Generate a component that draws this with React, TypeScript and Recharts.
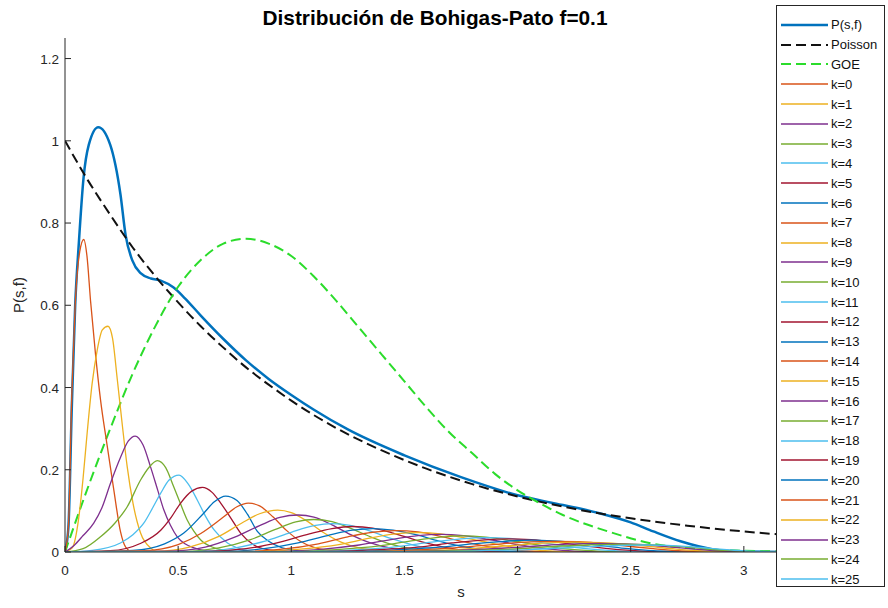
import { LineChart, Line, XAxis, YAxis } from 'recharts'

type Pt = [number, number]

const X_TICKS = [0, 0.5, 1, 1.5, 2, 2.5, 3]
const Y_TICKS = [0, 0.2, 0.4, 0.6, 0.8, 1, 1.2]

const P_SF: Pt[] = [
  [0, 0], [0.015, 0.06], [0.03, 0.35], [0.045, 0.6], [0.061, 0.75], [0.082, 0.91], [0.105, 0.99],
  [0.147, 1.033], [0.2, 0.99], [0.245, 0.87], [0.268, 0.77], [0.297, 0.71], [0.334, 0.678],
  [0.38, 0.665], [0.423, 0.66], [0.48, 0.643], [0.53, 0.617], [0.6, 0.575], [0.7, 0.518],
  [0.8, 0.466], [0.9, 0.421], [1, 0.382], [1.1, 0.346], [1.25, 0.298], [1.5, 0.235],
  [1.75, 0.182], [2, 0.138], [2.15, 0.12], [2.28, 0.105], [2.37, 0.093], [2.5, 0.072],
  [2.6, 0.05], [2.72, 0.026], [2.86, 0.007], [3, 0.001], [3.2, 0], [3.5, 0],
]

const POISSON: Pt[] = [
  [0, 1], [0.1, 0.905], [0.2, 0.82], [0.3, 0.74], [0.4, 0.67], [0.5, 0.607], [0.6, 0.549],
  [0.7, 0.497], [0.8, 0.449], [0.9, 0.407], [1, 0.368], [1.2, 0.301], [1.4, 0.247], [1.6, 0.202],
  [1.8, 0.165], [2, 0.135], [2.25, 0.105], [2.5, 0.082], [2.75, 0.064], [3, 0.05], [3.25, 0.039],
  [3.5, 0.03],
]

const GOE: Pt[] = [
  [0, 0], [0.1, 0.155], [0.2, 0.3], [0.3, 0.435], [0.4, 0.55], [0.5, 0.645], [0.6, 0.71],
  [0.7, 0.75], [0.8, 0.762], [0.9, 0.75], [1, 0.72], [1.1, 0.67], [1.2, 0.61], [1.3, 0.545],
  [1.4, 0.48], [1.5, 0.415], [1.6, 0.35], [1.7, 0.29], [1.8, 0.24], [1.9, 0.19], [2, 0.15],
  [2.1, 0.118], [2.2, 0.09], [2.4, 0.05], [2.6, 0.02], [2.8, 0.008], [3, 0.003], [3.2, 0.001], [3.5, 0],
]

// k-terms
const K0: Pt[] = [[0, 0], [0.015, 0.06], [0.03, 0.38], [0.045, 0.6], [0.065, 0.73], [0.083, 0.76], [0.097, 0.72], [0.113, 0.61], [0.135, 0.48], [0.157, 0.37], [0.186, 0.26], [0.216, 0.15], [0.245, 0.05], [0.268, 0.012], [0.3, 0], [3.5, 0]]
const K1: Pt[] = [[0, 0], [0.032, 0.01], [0.06, 0.08], [0.08, 0.18], [0.098, 0.29], [0.12, 0.41], [0.142, 0.49], [0.165, 0.54], [0.19, 0.549], [0.21, 0.52], [0.231, 0.42], [0.253, 0.31], [0.275, 0.207], [0.3, 0.12], [0.334, 0.046], [0.378, 0.01], [0.42, 0], [3.5, 0]]
const K2: Pt[] = [[0, 0], [0.04, 0.016], [0.08, 0.04], [0.127, 0.07], [0.165, 0.11], [0.201, 0.167], [0.246, 0.231], [0.28, 0.27], [0.31, 0.282], [0.345, 0.26], [0.378, 0.207], [0.41, 0.15], [0.437, 0.102], [0.466, 0.065], [0.496, 0.037], [0.53, 0.02], [0.57, 0.01], [0.63, 0.002], [0.7, 0], [3.5, 0]]
const K3: Pt[] = [[0, 0], [0.08, 0.008], [0.157, 0.037], [0.22, 0.07], [0.275, 0.11], [0.334, 0.175], [0.37, 0.205], [0.408, 0.222], [0.445, 0.205], [0.48, 0.159], [0.51, 0.118], [0.54, 0.078], [0.57, 0.05], [0.6, 0.029], [0.66, 0.01], [0.72, 0.003], [0.8, 0], [3.5, 0]]
const K4: Pt[] = [[0, 0], [0.12, 0.004], [0.245, 0.022], [0.3, 0.042], [0.348, 0.07], [0.39, 0.11], [0.423, 0.143], [0.46, 0.175], [0.504, 0.187], [0.545, 0.165], [0.585, 0.126], [0.62, 0.088], [0.66, 0.053], [0.718, 0.022], [0.78, 0.007], [0.86, 0], [3.5, 0]]
const K5: Pt[] = [[0, 0], [0.2, 0.003], [0.33, 0.02], [0.423, 0.053], [0.47, 0.085], [0.511, 0.119], [0.56, 0.148], [0.607, 0.157], [0.65, 0.145], [0.688, 0.119], [0.73, 0.085], [0.776, 0.046], [0.835, 0.017], [0.9, 0.005], [1, 0], [3.5, 0]]
const K6: Pt[] = [[0, 0], [0.3, 0.004], [0.44, 0.02], [0.525, 0.046], [0.614, 0.095], [0.66, 0.122], [0.71, 0.136], [0.76, 0.125], [0.806, 0.092], [0.85, 0.05], [0.9, 0.026], [0.96, 0.01], [1.05, 0.002], [1.15, 0], [3.5, 0]]
const K7: Pt[] = [[0, 0], [0.35, 0.003], [0.5, 0.018], [0.6, 0.045], [0.7, 0.085], [0.76, 0.11], [0.81, 0.119], [0.86, 0.112], [0.92, 0.085], [0.98, 0.052], [1.04, 0.026], [1.1, 0.011], [1.2, 0.002], [1.3, 0], [3.5, 0]]
const K8: Pt[] = [[0, 0], [0.4, 0.002], [0.55, 0.012], [0.68, 0.038], [0.78, 0.07], [0.86, 0.093], [0.94, 0.102], [1.0, 0.096], [1.07, 0.075], [1.14, 0.048], [1.22, 0.024], [1.3, 0.01], [1.4, 0.003], [1.5, 0], [3.5, 0]]
const K9: Pt[] = [[0, 0], [0.45, 0.002], [0.62, 0.012], [0.75, 0.036], [0.86, 0.064], [0.95, 0.084], [1.03, 0.09], [1.1, 0.085], [1.18, 0.066], [1.26, 0.043], [1.35, 0.022], [1.45, 0.008], [1.55, 0.002], [1.65, 0], [3.5, 0]]
const K10: Pt[] = [[0, 0], [0.5, 0.001], [0.68, 0.01], [0.82, 0.03], [0.93, 0.055], [1.02, 0.073], [1.1, 0.079], [1.18, 0.074], [1.26, 0.058], [1.35, 0.037], [1.44, 0.019], [1.54, 0.007], [1.65, 0.001], [1.75, 0], [3.5, 0]]
const K11: Pt[] = [[0, 0], [0.55, 0.001], [0.74, 0.009], [0.88, 0.026], [1.0, 0.048], [1.1, 0.064], [1.18, 0.069], [1.26, 0.065], [1.35, 0.051], [1.44, 0.033], [1.54, 0.017], [1.64, 0.006], [1.75, 0.001], [1.85, 0], [3.5, 0]]
const K12: Pt[] = [[0, 0], [0.6, 0.001], [0.8, 0.008], [0.95, 0.024], [1.08, 0.044], [1.18, 0.057], [1.27, 0.062], [1.36, 0.058], [1.45, 0.046], [1.55, 0.029], [1.65, 0.015], [1.75, 0.005], [1.87, 0.001], [1.97, 0], [3.5, 0]]
const K13: Pt[] = [[0, 0], [0.68, 0.001], [0.88, 0.008], [1.03, 0.022], [1.16, 0.04], [1.27, 0.053], [1.36, 0.057], [1.45, 0.053], [1.55, 0.042], [1.65, 0.027], [1.75, 0.014], [1.86, 0.005], [1.98, 0.001], [2.08, 0], [3.5, 0]]
const K14: Pt[] = [[0, 0], [0.75, 0.001], [0.96, 0.007], [1.12, 0.02], [1.25, 0.037], [1.36, 0.048], [1.46, 0.052], [1.56, 0.049], [1.66, 0.038], [1.76, 0.025], [1.87, 0.013], [1.98, 0.005], [2.1, 0.001], [2.2, 0], [3.5, 0]]
const K15: Pt[] = [[0, 0], [0.82, 0.001], [1.04, 0.007], [1.21, 0.018], [1.34, 0.033], [1.46, 0.044], [1.56, 0.047], [1.66, 0.044], [1.77, 0.034], [1.88, 0.022], [1.99, 0.011], [2.1, 0.004], [2.22, 0.001], [2.32, 0], [3.5, 0]]
const K16: Pt[] = [[0, 0], [0.9, 0.001], [1.12, 0.006], [1.3, 0.017], [1.44, 0.03], [1.56, 0.04], [1.66, 0.043], [1.76, 0.04], [1.87, 0.031], [1.98, 0.02], [2.09, 0.01], [2.2, 0.004], [2.32, 0.001], [2.42, 0], [3.5, 0]]
const K17: Pt[] = [[0, 0], [0.98, 0.001], [1.2, 0.006], [1.39, 0.015], [1.53, 0.027], [1.66, 0.036], [1.76, 0.039], [1.86, 0.036], [1.97, 0.028], [2.08, 0.018], [2.19, 0.009], [2.3, 0.004], [2.42, 0.001], [2.52, 0], [3.5, 0]]
const K18: Pt[] = [[0, 0], [1.05, 0.001], [1.28, 0.005], [1.47, 0.013], [1.62, 0.024], [1.75, 0.032], [1.86, 0.035], [1.96, 0.033], [2.07, 0.026], [2.18, 0.017], [2.29, 0.009], [2.4, 0.004], [2.52, 0.001], [2.62, 0], [3.5, 0]]
const K19: Pt[] = [[0, 0], [1.12, 0.001], [1.36, 0.005], [1.56, 0.012], [1.71, 0.022], [1.84, 0.029], [1.96, 0.032], [2.06, 0.03], [2.17, 0.024], [2.28, 0.016], [2.39, 0.009], [2.5, 0.004], [2.61, 0.001], [2.7, 0], [3.5, 0]]
const K20: Pt[] = [[0, 0], [1.2, 0.001], [1.44, 0.004], [1.64, 0.011], [1.8, 0.02], [1.94, 0.026], [2.06, 0.029], [2.16, 0.027], [2.27, 0.022], [2.38, 0.015], [2.49, 0.008], [2.6, 0.003], [2.71, 0.001], [2.8, 0], [3.5, 0]]
const K21: Pt[] = [[0, 0], [1.28, 0.001], [1.52, 0.004], [1.72, 0.01], [1.89, 0.018], [2.03, 0.024], [2.16, 0.026], [2.27, 0.025], [2.38, 0.02], [2.49, 0.014], [2.6, 0.008], [2.71, 0.003], [2.82, 0.001], [2.9, 0], [3.5, 0]]
const K22: Pt[] = [[0, 0], [1.36, 0.001], [1.6, 0.003], [1.81, 0.009], [1.98, 0.016], [2.13, 0.022], [2.26, 0.024], [2.37, 0.023], [2.48, 0.019], [2.59, 0.013], [2.7, 0.007], [2.8, 0.003], [2.9, 0.001], [2.98, 0], [3.5, 0]]
const K23: Pt[] = [[0, 0], [1.44, 0.001], [1.68, 0.003], [1.89, 0.008], [2.07, 0.014], [2.22, 0.019], [2.36, 0.021], [2.47, 0.02], [2.58, 0.017], [2.68, 0.012], [2.78, 0.007], [2.88, 0.003], [2.97, 0.001], [3.05, 0], [3.5, 0]]
const K24: Pt[] = [[0, 0], [1.52, 0.001], [1.76, 0.003], [1.97, 0.007], [2.15, 0.013], [2.31, 0.017], [2.46, 0.019], [2.57, 0.018], [2.67, 0.015], [2.77, 0.011], [2.86, 0.006], [2.95, 0.003], [3.03, 0.001], [3.1, 0], [3.5, 0]]
const K25: Pt[] = [[0, 0], [1.6, 0.001], [1.84, 0.003], [2.05, 0.006], [2.24, 0.011], [2.4, 0.015], [2.56, 0.017], [2.66, 0.016], [2.76, 0.013], [2.85, 0.009], [2.94, 0.005], [3.02, 0.002], [3.1, 0.001], [3.18, 0], [3.5, 0]]

const K_CURVES = [K0, K1, K2, K3, K4, K5, K6, K7, K8, K9, K10, K11, K12, K13, K14, K15, K16, K17, K18, K19, K20, K21, K22, K23, K24, K25]

const MATLAB_COLORS = ['#D95319', '#EDB120', '#7E2F8E', '#77AC30', '#4DBEEE', '#A2142F', '#0072BD']
const GREEN = '#2bdc2b'
const AXIS = '#262626'
const FONT = '"Liberation Sans", Arial, Helvetica, sans-serif'

const PLOT_LEFT = 65
const PLOT_TOP = 38
const PLOT_BOTTOM = 552

const toRows = (pts: Pt[]) => pts.map(([s, y]) => ({ s, y }))

function BottomTick(props: any) {
  const { x, payload } = props
  return (
    <g>
      <line x1={x} x2={x} y1={PLOT_BOTTOM} y2={PLOT_BOTTOM - 6} stroke={AXIS} />
      <text x={x} y={PLOT_BOTTOM + 23} textAnchor="middle" fontSize={13.5} fill={AXIS} fontFamily={FONT}>
        {payload.value}
      </text>
    </g>
  )
}

function TopTick(props: any) {
  const { x } = props
  return <line x1={x} x2={x} y1={PLOT_TOP} y2={PLOT_TOP + 6} stroke={AXIS} />
}

function LeftTick(props: any) {
  const { y, payload } = props
  return (
    <g>
      <line x1={PLOT_LEFT} x2={PLOT_LEFT + 6} y1={y} y2={y} stroke={AXIS} />
      <text x={PLOT_LEFT - 6} y={y + 5} textAnchor="end" fontSize={13.5} fill={AXIS} fontFamily={FONT}>
        {payload.value}
      </text>
    </g>
  )
}

const LEGEND = [
  { name: 'P(s,f)', color: '#0072BD', width: 2.5, dash: undefined as string | undefined },
  { name: 'Poisson', color: '#111', width: 2, dash: '10 5' },
  { name: 'GOE', color: GREEN, width: 2, dash: '10 5' },
  ...K_CURVES.map((_, k) => ({ name: `k=${k}`, color: MATLAB_COLORS[k % 7], width: 1.3, dash: undefined })),
]

export default function App() {
  return (
    <div style={{ position: 'absolute', left: 0, top: 0, width: 888, height: 608, background: '#fff', fontFamily: FONT }}>
      <LineChart width={888} height={608} margin={{ top: PLOT_TOP, right: 31, bottom: 0, left: 0 }}>
        <XAxis
          type="number"
          dataKey="s"
          domain={[0, 3.5]}
          ticks={X_TICKS}
          interval={0}
          height={56}
          allowDataOverflow
          axisLine={{ stroke: AXIS }}
          tickLine={false}
          tick={<BottomTick />}
        />
        <XAxis
          xAxisId="top"
          orientation="top"
          type="number"
          dataKey="s"
          domain={[0, 3.5]}
          ticks={X_TICKS}
          interval={0}
          height={0}
          allowDataOverflow
          axisLine={{ stroke: AXIS }}
          tickLine={false}
          tick={<TopTick />}
        />
        <YAxis
          type="number"
          domain={[0, 1.25]}
          ticks={Y_TICKS}
          interval={0}
          width={65}
          allowDataOverflow
          axisLine={{ stroke: AXIS }}
          tickLine={false}
          tick={<LeftTick />}
        />
        <Line data={toRows(P_SF)} dataKey="y" type="monotone" stroke="#0072BD" strokeWidth={2.5} dot={false} isAnimationActive={false} />
        <Line data={toRows(POISSON)} dataKey="y" type="monotone" stroke="#111" strokeWidth={2} strokeDasharray="10 5" dot={false} isAnimationActive={false} />
        <Line data={toRows(GOE)} dataKey="y" type="monotone" stroke={GREEN} strokeWidth={2} strokeDasharray="10 5" dot={false} isAnimationActive={false} />
        {K_CURVES.map((pts, k) => (
          <Line
            key={k}
            data={toRows(pts)}
            dataKey="y"
            type="monotone"
            stroke={MATLAB_COLORS[k % 7]}
            strokeWidth={1.3}
            dot={false}
            isAnimationActive={false}
          />
        ))}
      </LineChart>

      <div style={{ position: 'absolute', left: 0, top: 6, width: 870, textAlign: 'center', fontSize: 20.8, fontWeight: 'bold', color: '#000' }}>
        Distribución de Bohigas-Pato f=0.1
      </div>
      <div style={{ position: 'absolute', left: 451, top: 583, width: 20, textAlign: 'center', fontSize: 15, color: AXIS }}>s</div>
      <div
        style={{
          position: 'absolute', left: 18, top: 295, fontSize: 15, color: AXIS,
          transform: 'translate(-50%, -50%) rotate(-90deg)', whiteSpace: 'nowrap',
        }}
      >
        P(s,f)
      </div>

      <div
        style={{
          position: 'absolute', left: 776, top: 5, width: 109, height: 582,
          border: `1px solid ${AXIS}`, background: '#fff', boxSizing: 'border-box', paddingTop: 9,
        }}
      >
        {LEGEND.map((e) => (
          <div key={e.name} style={{ height: 19.8, display: 'flex', alignItems: 'center' }}>
            <svg width={53} height={10} style={{ flex: 'none' }}>
              <line x1={4} x2={51} y1={5} y2={5} stroke={e.color} strokeWidth={e.width} strokeDasharray={e.dash} />
            </svg>
            <span style={{ fontSize: 13, color: '#111', marginLeft: 1 }}>{e.name}</span>
          </div>
        ))}
      </div>
    </div>
  )
}
